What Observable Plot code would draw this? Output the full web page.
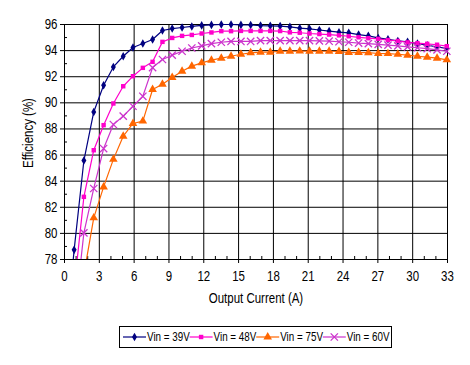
<!DOCTYPE html>
<html><head><meta charset="utf-8">
<script src="https://cdn.jsdelivr.net/npm/d3@7"></script>
<script src="https://cdn.jsdelivr.net/npm/@observablehq/plot@0.6"></script>
<style>
html,body{margin:0;padding:0;background:#fff;}
#wrap{position:relative;width:470px;height:365px;overflow:hidden;background:#fff;}
#legend{position:absolute;left:0;top:315px;}
</style></head><body><div id="wrap"></div>
<script>
// Output current (A)
const current = [0.42, 0.83, 1.67, 2.52, 3.37, 4.21, 5.06, 5.9, 6.75, 7.59, 8.44, 9.28, 10.13, 10.97, 11.82, 12.66, 13.51, 14.35, 15.2, 16.04, 16.89, 17.73, 18.58, 19.42, 20.27, 21.11, 21.96, 22.8, 23.65, 24.49, 25.34, 26.18, 27.03, 27.87, 28.72, 29.56, 30.41, 31.25, 32.1, 32.94];
// Efficiency (%)
const vin39 = [74.8, 78.74, 85.58, 89.3, 91.35, 92.75, 93.57, 94.24, 94.54, 94.85, 95.54, 95.69, 95.77, 95.85, 95.93, 95.97, 96.0, 96.0, 95.97, 95.96, 95.92, 95.9, 95.88, 95.82, 95.72, 95.67, 95.58, 95.49, 95.41, 95.36, 95.23, 95.13, 94.97, 94.87, 94.74, 94.67, 94.54, 94.41, 94.28, 94.16];
const vin48 = [null, 75.8, 82.8, 86.37, 88.29, 89.95, 91.27, 92.04, 92.68, 93.14, 94.67, 94.97, 95.13, 95.2, 95.31, 95.39, 95.49, 95.49, 95.51, 95.51, 95.51, 95.51, 95.5, 95.4, 95.37, 95.31, 95.27, 95.23, 95.17, 95.1, 95.02, 94.95, 94.9, 94.81, 94.74, 94.63, 94.57, 94.52, 94.45, 94.34];
const vin75 = [null, null, 76.86, 81.19, 83.56, 85.67, 87.44, 88.42, 88.6, 91.02, 91.43, 91.94, 92.42, 92.81, 93.06, 93.27, 93.42, 93.57, 93.72, 93.83, 93.88, 93.88, 93.95, 93.95, 93.96, 93.95, 93.95, 93.95, 93.93, 93.85, 93.85, 93.84, 93.78, 93.77, 93.72, 93.65, 93.57, 93.5, 93.42, 93.29];
const vin60 = [null, 73.2, 80.04, 83.44, 86.5, 88.34, 88.98, 89.74, 90.5, 92.7, 93.32, 93.65, 93.95, 94.2, 94.36, 94.54, 94.64, 94.7, 94.7, 94.7, 94.77, 94.77, 94.77, 94.77, 94.77, 94.77, 94.75, 94.72, 94.68, 94.64, 94.58, 94.54, 94.48, 94.42, 94.36, 94.29, 94.22, 94.15, 94.06, 93.95];

const seriesNames = ["Vin = 39V", "Vin = 48V", "Vin = 75V", "Vin = 60V"];
const seriesValues = [vin39, vin48, vin75, vin60];
const seriesColors = ["#000080", "#FF00CC", "#FF6600", "#CC33CC"];
const seriesSymbols = ["diamond", "square", "triangle", "times"];

const xTicks = [0, 3, 6, 9, 12, 15, 18, 21, 24, 27, 30, 33];
const xMinor = [1, 2, 4, 5, 7, 8, 10, 11, 13, 14, 16, 17, 19, 20, 22, 23, 25, 26, 28, 29, 31, 32];
const yTicks = [78, 80, 82, 84, 86, 88, 90, 92, 94, 96];
const yMinor = [79, 81, 83, 85, 87, 89, 91, 93, 95];
const xTitle = "Output Current (A)";
const yTitle = "Efficiency (%)";

const FONT = '"Liberation Sans", Arial, sans-serif';
const fs = 14, fsLeg = 12, NARROW = 0.82;
const symR = {diamond: 2.6, square: 2.5, triangle: 3.2, times: 3.4};

const data = seriesNames.flatMap((s, i) => current.map((x, j) => ({x, y: seriesValues[i][j], s})));
const valid = data.filter(d => d.y != null);

const dotMarks = seriesNames.map((s, i) => {
  const sym = seriesSymbols[i];
  const filled = sym !== "times";
  return Plot.dot(valid.filter(d => d.s === s && d.y >= 78), {
    x: "x", y: "y", symbol: () => sym, r: symR[sym],
    fill: filled ? seriesColors[i] : "none",
    stroke: filled ? "none" : seriesColors[i],
    strokeWidth: filled ? 0 : 1.3
  });
});

const plot = Plot.plot({
  width: 470, height: 315,
  marginLeft: 64, marginRight: 23, marginTop: 24, marginBottom: 56,
  style: {fontFamily: FONT, fontSize: fs + "px", color: "#000", background: "#fff", overflow: "visible"},
  x: {domain: [0, 33]},
  y: {domain: [78, 96]},
  color: {domain: seriesNames, range: seriesColors},
  symbol: {domain: seriesNames, range: seriesSymbols},
  marks: [
    Plot.gridX(xTicks, {stroke: "#000", strokeOpacity: 1, strokeWidth: 1}),
    Plot.gridY(yTicks, {stroke: "#000", strokeOpacity: 1, strokeWidth: 1}),
    Plot.frame({stroke: "#000", strokeWidth: 1}),
    Plot.axisY(yTicks, {tickSize: 4, tickPadding: 3, label: null, fontSize: fs, tickFormat: d => String(d)}),
    Plot.axisY(yMinor, {tickSize: 3, dx: 3, label: null, tickFormat: () => ""}),
    Plot.axisX(xTicks, {tickSize: 4, tickPadding: 8, label: null, fontSize: fs, tickFormat: d => String(d)}),
    Plot.axisX(xMinor, {tickSize: 3, dy: -3, label: null, tickFormat: () => ""}),
    Plot.line(valid, {x: "x", y: "y", z: "s", stroke: "s", strokeWidth: 1.2, clip: true}),
    ...dotMarks,
    Plot.text([yTitle], {text: d => d, frameAnchor: "left", dx: -36, dy: 26, rotate: -90, fontSize: fs}),
    Plot.text([xTitle], {text: d => d, frameAnchor: "bottom", dy: 43, fontSize: fs})
  ]
});

// Narrow the lettering (the reference uses an Arial Narrow-like face)
function narrowText(root) {
  root.querySelectorAll("text").forEach(t => {
    const tr = t.getAttribute("transform");
    if (tr) {
      t.setAttribute("transform", tr + ` scale(${NARROW},1)`);
    } else {
      const x = +(t.getAttribute("x") || 0), y = +(t.getAttribute("y") || 0);
      t.removeAttribute("x"); t.removeAttribute("y");
      t.setAttribute("transform", `translate(${x},${y}) scale(${NARROW},1)`);
    }
  });
}
narrowText(plot);
const wrap = document.getElementById("wrap");
wrap.appendChild(plot);

// Legend (SVG, below the chart)
const legW = 470, legH = 50;
const leg = d3.create("svg").attr("id", "legend").attr("width", legW).attr("height", legH)
  .style("font-family", FONT).style("font-size", fsLeg + "px");
const boxX = 119.5, boxY = 11.5, boxW = 272, boxH = 21, itemW = 66.6;
leg.append("rect").attr("x", boxX).attr("y", boxY).attr("width", boxW).attr("height", boxH)
  .attr("fill", "#fff").attr("stroke", "#000").attr("stroke-width", 1);
const symMap = {diamond: d3.symbolDiamond, square: d3.symbolSquare, triangle: d3.symbolTriangle, times: d3.symbolTimes};
seriesNames.forEach((s, i) => {
  const x0 = boxX + 3.5 + i * itemW, cy = boxY + boxH / 2;
  const g = leg.append("g");
  g.append("line").attr("x1", x0).attr("x2", x0 + 23).attr("y1", cy).attr("y2", cy)
    .attr("stroke", seriesColors[i]).attr("stroke-width", 1.2);
  const sym = seriesSymbols[i];
  g.append("path").attr("transform", `translate(${x0 + 11.5},${cy})`)
    .attr("d", d3.symbol(symMap[sym], Math.PI * symR[sym] * symR[sym])())
    .attr("fill", sym === "times" ? "none" : seriesColors[i])
    .attr("stroke", sym === "times" ? seriesColors[i] : "none")
    .attr("stroke-width", 1.3);
  g.append("text").attr("x", x0 + 24).attr("y", cy).attr("dy", "0.35em").text(s);
});
narrowText(leg.node());
wrap.appendChild(leg.node());
</script>
</body></html>
